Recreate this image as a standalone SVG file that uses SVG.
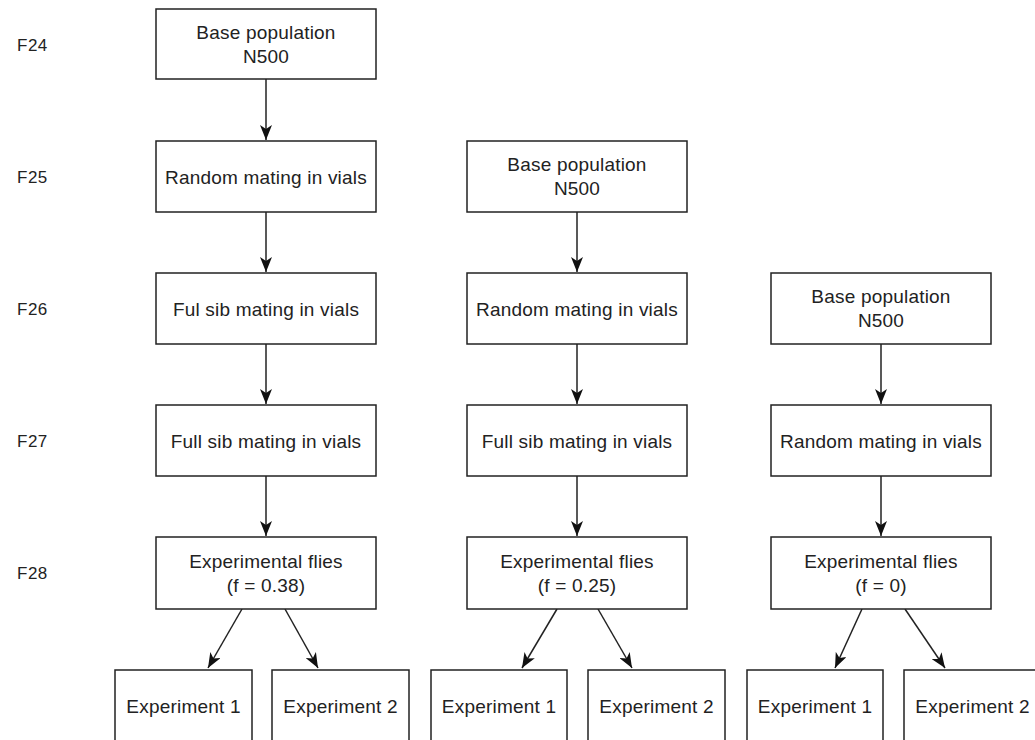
<svg xmlns="http://www.w3.org/2000/svg" width="1035" height="740" viewBox="0 0 1035 740">
<style>
.box{fill:#fff;stroke:#222;stroke-width:1.5}
.t{font-family:"Liberation Sans",Arial,sans-serif;font-size:19px;fill:#222;text-anchor:middle;letter-spacing:0.2px}
.lbl{font-family:"Liberation Sans",Arial,sans-serif;font-size:17px;fill:#222;letter-spacing:0.5px}
.c{stroke:#222;stroke-width:1.5;fill:none;marker-end:url(#ah)}
</style>
<defs>
<marker id="ah" viewBox="0 0 15 12" refX="15" refY="6" markerWidth="15" markerHeight="12" markerUnits="userSpaceOnUse" orient="auto">
<path d="M0,0 L15,6 L0,12 L4,6 z" fill="#111"/>
</marker>
</defs>
<rect width="1035" height="740" fill="#fff"/>
<g id="labels">
<text class="lbl" x="17" y="51">F24</text>
<text class="lbl" x="17" y="183">F25</text>
<text class="lbl" x="17" y="315">F26</text>
<text class="lbl" x="17" y="447">F27</text>
<text class="lbl" x="17" y="579">F28</text>
</g>
<g id="connectors">
<path class="c" d="M266,79 V140"/>
<path class="c" d="M266,212 V272"/>
<path class="c" d="M266,344 V404"/>
<path class="c" d="M266,476 V536"/>
<path class="c" d="M577,212 V272"/>
<path class="c" d="M577,344 V404"/>
<path class="c" d="M577,476 V536"/>
<path class="c" d="M881,344 V404"/>
<path class="c" d="M881,476 V536"/>
<path class="c" d="M242,609 L208,668"/>
<path class="c" d="M285,609 L318,668"/>
<path class="c" d="M557,609 L522,668"/>
<path class="c" d="M598,609 L632,668"/>
<path class="c" d="M862,609 L835,668"/>
<path class="c" d="M905,609 L945,668"/>
</g>
<g id="c1_base"><rect class="box" x="156" y="9" width="220" height="70"/><text class="t" x="266" y="39">Base population</text><text class="t" x="266" y="63">N500</text></g>
<g id="c1_random"><rect class="box" x="156" y="141" width="220" height="71"/><text class="t" x="266" y="184">Random mating in vials</text></g>
<g id="c1_fulsib"><rect class="box" x="156" y="273" width="220" height="71"/><text class="t" x="266" y="316">Ful sib mating in vials</text></g>
<g id="c1_fullsib"><rect class="box" x="156" y="405" width="220" height="71"/><text class="t" x="266" y="448">Full sib mating in vials</text></g>
<g id="c1_exp"><rect class="box" x="156" y="537" width="220" height="72"/><text class="t" x="266" y="568">Experimental flies</text><text class="t" x="266" y="592">(f = 0.38)</text></g>
<g id="c1_e1"><rect class="box" x="115" y="670" width="137" height="90"/><text class="t" x="183.5" y="713">Experiment 1</text></g>
<g id="c1_e2"><rect class="box" x="272" y="670" width="137" height="90"/><text class="t" x="340.5" y="713">Experiment 2</text></g>

<g id="c2_base"><rect class="box" x="467" y="141" width="220" height="71"/><text class="t" x="577" y="171">Base population</text><text class="t" x="577" y="195">N500</text></g>
<g id="c2_random"><rect class="box" x="467" y="273" width="220" height="71"/><text class="t" x="577" y="316">Random mating in vials</text></g>
<g id="c2_fullsib"><rect class="box" x="467" y="405" width="220" height="71"/><text class="t" x="577" y="448">Full sib mating in vials</text></g>
<g id="c2_exp"><rect class="box" x="467" y="537" width="220" height="72"/><text class="t" x="577" y="568">Experimental flies</text><text class="t" x="577" y="592">(f = 0.25)</text></g>
<g id="c2_e1"><rect class="box" x="431" y="670" width="136" height="90"/><text class="t" x="499" y="713">Experiment 1</text></g>
<g id="c2_e2"><rect class="box" x="588" y="670" width="137" height="90"/><text class="t" x="656.5" y="713">Experiment 2</text></g>

<g id="c3_base"><rect class="box" x="771" y="273" width="220" height="71"/><text class="t" x="881" y="303">Base population</text><text class="t" x="881" y="327">N500</text></g>
<g id="c3_random"><rect class="box" x="771" y="405" width="220" height="71"/><text class="t" x="881" y="448">Random mating in vials</text></g>
<g id="c3_exp"><rect class="box" x="771" y="537" width="220" height="72"/><text class="t" x="881" y="568">Experimental flies</text><text class="t" x="881" y="592">(f = 0)</text></g>
<g id="c3_e1"><rect class="box" x="747" y="670" width="136" height="90"/><text class="t" x="815" y="713">Experiment 1</text></g>
<g id="c3_e2"><rect class="box" x="904" y="670" width="137" height="90"/><text class="t" x="972.5" y="713">Experiment 2</text></g>
</svg>
